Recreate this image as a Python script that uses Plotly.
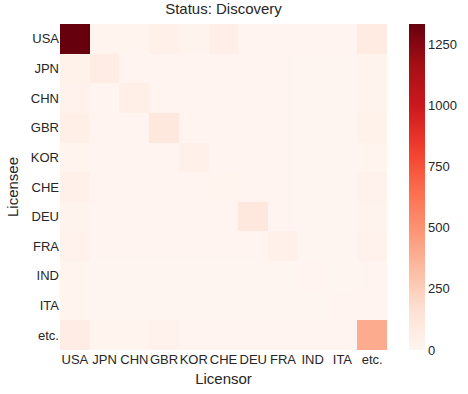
import plotly.graph_objects as go
import plotly.express as px

licensors = ['USA', 'JPN', 'CHN', 'GBR', 'KOR', 'CHE', 'DEU', 'FRA', 'IND', 'ITA', 'etc.']
licensees = ['USA', 'JPN', 'CHN', 'GBR', 'KOR', 'CHE', 'DEU', 'FRA', 'IND', 'ITA', 'etc.']

# rows = licensee, cols = licensor
usa = [1332, 10, 10, 40, 15, 45, 5, 5, 5, 5, 80]
jpn = [25, 60, 5, 5, 5, 5, 5, 5, 2, 2, 15]
chn = [20, 5, 50, 5, 5, 5, 5, 5, 2, 2, 15]
gbr = [50, 5, 5, 100, 5, 5, 5, 5, 2, 2, 25]
kor = [10, 5, 5, 5, 40, 5, 5, 5, 2, 2, 10]
che = [35, 5, 5, 5, 5, 10, 5, 5, 2, 2, 20]
deu = [15, 5, 5, 5, 5, 5, 100, 5, 2, 2, 15]
fra = [20, 5, 5, 5, 5, 5, 5, 40, 2, 2, 20]
ind = [10, 2, 2, 2, 2, 2, 2, 2, 5, 2, 5]
ita = [10, 2, 2, 2, 2, 2, 2, 2, 2, 5, 5]
etc = [60, 10, 10, 20, 5, 5, 5, 5, 5, 5, 400]

z = [usa, jpn, chn, gbr, kor, che, deu, fra, ind, ita, etc]

fig = go.Figure(go.Heatmap(
    z=z, x=licensors, y=licensees,
    colorscale=px.colors.sequential.Reds,
    zmin=0, zmax=1332,
    colorbar=dict(
        thickness=16, len=1, lenmode='fraction', y=0.5, yanchor='middle',
        x=1.067, xanchor='left', xpad=0, ypad=0, outlinewidth=0,
        tickvals=[0, 250, 500, 750, 1000, 1250], ticks='',
        tickfont=dict(size=13, color='#262626'),
    ),
))

fig.update_layout(
    width=468, height=394,
    margin=dict(l=60, r=81, t=24, b=44, autoexpand=False),
    paper_bgcolor='white', plot_bgcolor='white',
    font=dict(family='Liberation Sans, Arial, sans-serif', color='#262626'),
    title=dict(text='Status: Discovery', x=0.5, xref='paper', xanchor='center',
               y=1, yref='container', yanchor='top', pad=dict(t=3),
               font=dict(size=15, color='#262626')),
)
fig.update_xaxes(title=dict(text='Licensor', font=dict(size=15), standoff=7),
                 tickfont=dict(size=13), tickangle=0, ticks='', showgrid=False,
                 zeroline=False, automargin=False)
fig.update_yaxes(title=dict(text='Licensee', font=dict(size=15), standoff=8),
                 tickfont=dict(size=13), ticks='', showgrid=False, zeroline=False,
                 autorange='reversed', automargin=False)

# drop the default 8px body margin so the figure fills the window
fig.write_html("out.html", config={'displayModeBar': False},
               post_script="document.body.style.margin='0px';")
